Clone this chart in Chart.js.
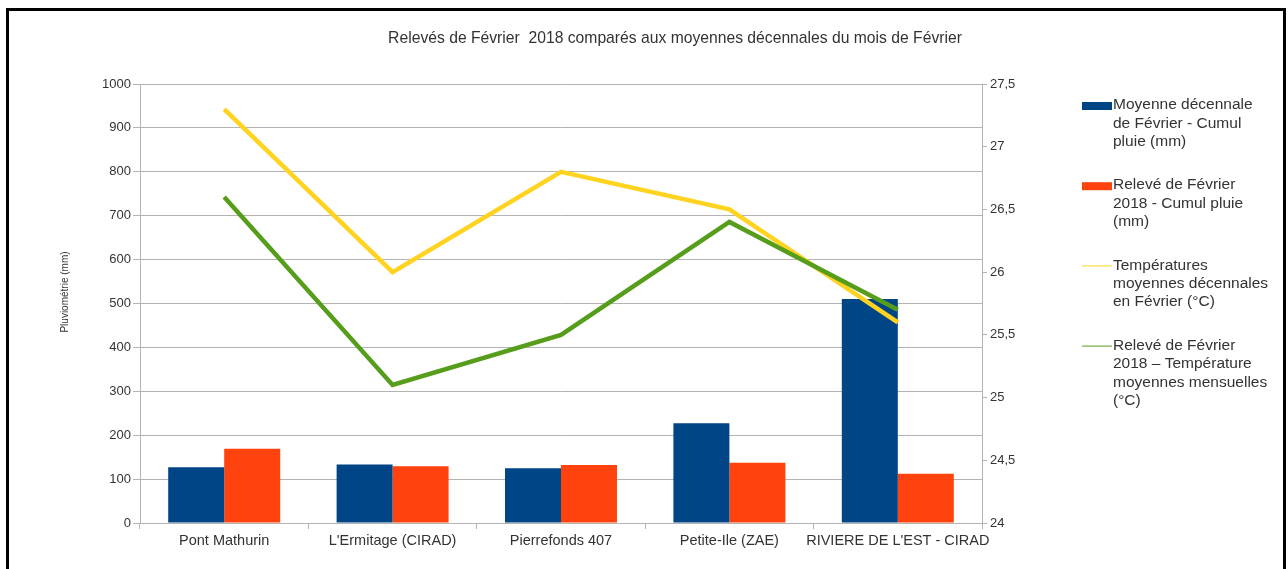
<!DOCTYPE html>
<html>
<head>
<meta charset="utf-8">
<script src="https://cdn.jsdelivr.net/npm/chart.js@4.4.1/dist/chart.umd.min.js"></script>
<style>
  html, body { margin: 0; padding: 0; background: #ffffff; }
  #wrap { position: relative; width: 1288px; height: 569px; }
  canvas { display: block; }
</style>
</head>
<body>
<div id="wrap"><canvas id="c" width="1288" height="569"></canvas></div>
<script>
// ---- Data ----
const chartTitle = "Relevés de Février  2018 comparés aux moyennes décennales du mois de Février";
const yAxisTitle = "Pluviométrie (mm)";
const categories = ["Pont Mathurin", "L'Ermitage (CIRAD)", "Pierrefonds 407", "Petite-Ile (ZAE)", "RIVIERE DE L'EST - CIRAD"];

const rainDecadal = [127, 133, 125, 227, 510];      // Moyenne décennale - cumul pluie (mm)
const rain2018 = [169, 129, 132, 137, 112];         // Relevé Février 2018 - cumul pluie (mm)
const tempDecadal = [27.3, 26.0, 26.8, 26.5, 25.6]; // Températures moyennes décennales (°C)
const temp2018 = [26.6, 25.1, 25.5, 26.4, 25.7];    // Relevé Février 2018 - températures (°C)

const legendLines = [
  ["Moyenne décennale", "de Février - Cumul", "pluie (mm)"],
  ["Relevé de Février", "2018 - Cumul pluie", "(mm)"],
  ["Températures", "moyennes décennales", "en Février (°C)"],
  ["Relevé de Février", "2018 – Température", "moyennes mensuelles", "(°C)"]
];

const leftTicks = { min: 0, max: 1000, step: 100 };
const rightTicks = { min: 24, max: 27.5, step: 0.5 };

// ---- Styles ----
const COLORS = ["#004586", "#ff420e", "#ffd320", "#579d1c"];
const GRID = "#b3b3b3";
const TEXT = "#333333";
const FONT = "'Liberation Sans', Arial, sans-serif";

const decorPlugin = {
  id: 'decor',
  beforeDraw(chart) {
    const ctx = chart.ctx;
    ctx.save();
    ctx.fillStyle = '#ffffff';
    ctx.fillRect(0, 0, chart.width, chart.height);
    ctx.restore();
  },
  afterDraw(chart) {
    const ctx = chart.ctx;
    ctx.save();
    // frame
    ctx.fillStyle = '#000000';
    ctx.fillRect(6, 8, 1280, 3);
    ctx.fillRect(6, 8, 3, chart.height - 8);
    ctx.fillRect(1283, 8, 3, chart.height - 8);

    // title
    ctx.fillStyle = TEXT;
    ctx.font = "15.7px " + FONT;
    ctx.textAlign = 'center';
    ctx.textBaseline = 'middle';
    ctx.fillText(chartTitle, 675, 39);

    // y axis title
    ctx.save();
    ctx.translate(65, 292);
    ctx.rotate(-Math.PI / 2);
    ctx.font = "10px " + FONT;
    ctx.fillText(yAxisTitle, 0, 0);
    ctx.restore();

    // legend
    ctx.textAlign = 'left';
    ctx.font = "15.5px " + FONT;
    let y = 105;
    const lh = 18.4;
    chart.data.datasets.forEach((ds, i) => {
      const lines = legendLines[i];
      if (ds.type === 'bar') {
        ctx.fillStyle = ds.backgroundColor;
        ctx.fillRect(1082, y - 3, 30, 8);
      } else {
        ctx.strokeStyle = ds.borderColor;
        ctx.lineWidth = 1;
        ctx.beginPath();
        ctx.moveTo(1082, y + 0.5);
        ctx.lineTo(1112, y + 0.5);
        ctx.stroke();
      }
      ctx.fillStyle = TEXT;
      lines.forEach((ln, k) => ctx.fillText(ln, 1113, y + k * lh));
      y += lines.length * lh + 25;
    });
    ctx.restore();
  }
};

new Chart(document.getElementById('c'), {
  data: {
    labels: categories,
    datasets: [
      { type: 'bar', label: legendLines[0].join(' '), data: rainDecadal, backgroundColor: COLORS[0], yAxisID: 'y', order: 3,
        categoryPercentage: 0.665, barPercentage: 1.0 },
      { type: 'bar', label: legendLines[1].join(' '), data: rain2018, backgroundColor: COLORS[1], yAxisID: 'y', order: 3,
        categoryPercentage: 0.665, barPercentage: 1.0 },
      { type: 'line', label: legendLines[2].join(' '), data: tempDecadal, borderColor: COLORS[2], backgroundColor: COLORS[2],
        borderWidth: 4.5, pointRadius: 0, tension: 0, yAxisID: 'y1', order: 2 },
      { type: 'line', label: legendLines[3].join(' '), data: temp2018, borderColor: COLORS[3], backgroundColor: COLORS[3],
        borderWidth: 4.5, pointRadius: 0, tension: 0, yAxisID: 'y1', order: 1 }
    ]
  },
  options: {
    responsive: false,
    animation: false,
    devicePixelRatio: 1,
    layout: { padding: { left: 0, top: 84, right: 266, bottom: 16 } },
    plugins: { legend: { display: false }, title: { display: false }, tooltip: { enabled: false } },
    scales: {
      x: {
        offset: true,
        grid: { offset: true, drawOnChartArea: false, drawTicks: true, tickLength: 6, color: GRID },
        border: { color: GRID },
        ticks: { color: TEXT, font: { family: FONT, size: 14.5 }, padding: 3, maxRotation: 0, autoSkip: false },
        afterFit(s) { s.height = 30; }
      },
      y: {
        position: 'left',
        min: leftTicks.min, max: leftTicks.max,
        grid: { color: GRID, tickLength: 7 },
        border: { color: GRID },
        ticks: { stepSize: leftTicks.step, color: TEXT, font: { family: FONT, size: 13 }, padding: 2,
          callback: v => String(v) },
        afterFit(s) { s.width = 140; }
      },
      y1: {
        position: 'right',
        min: rightTicks.min, max: rightTicks.max,
        grid: { drawOnChartArea: false, color: GRID, tickLength: 5 },
        border: { color: GRID },
        ticks: { stepSize: rightTicks.step, color: TEXT, font: { family: FONT, size: 13 }, padding: 3,
          callback: v => String(v).replace('.', ',') },
        afterFit(s) { s.width = 40; }
      }
    }
  },
  plugins: [decorPlugin]
});
</script>
</body>
</html>
